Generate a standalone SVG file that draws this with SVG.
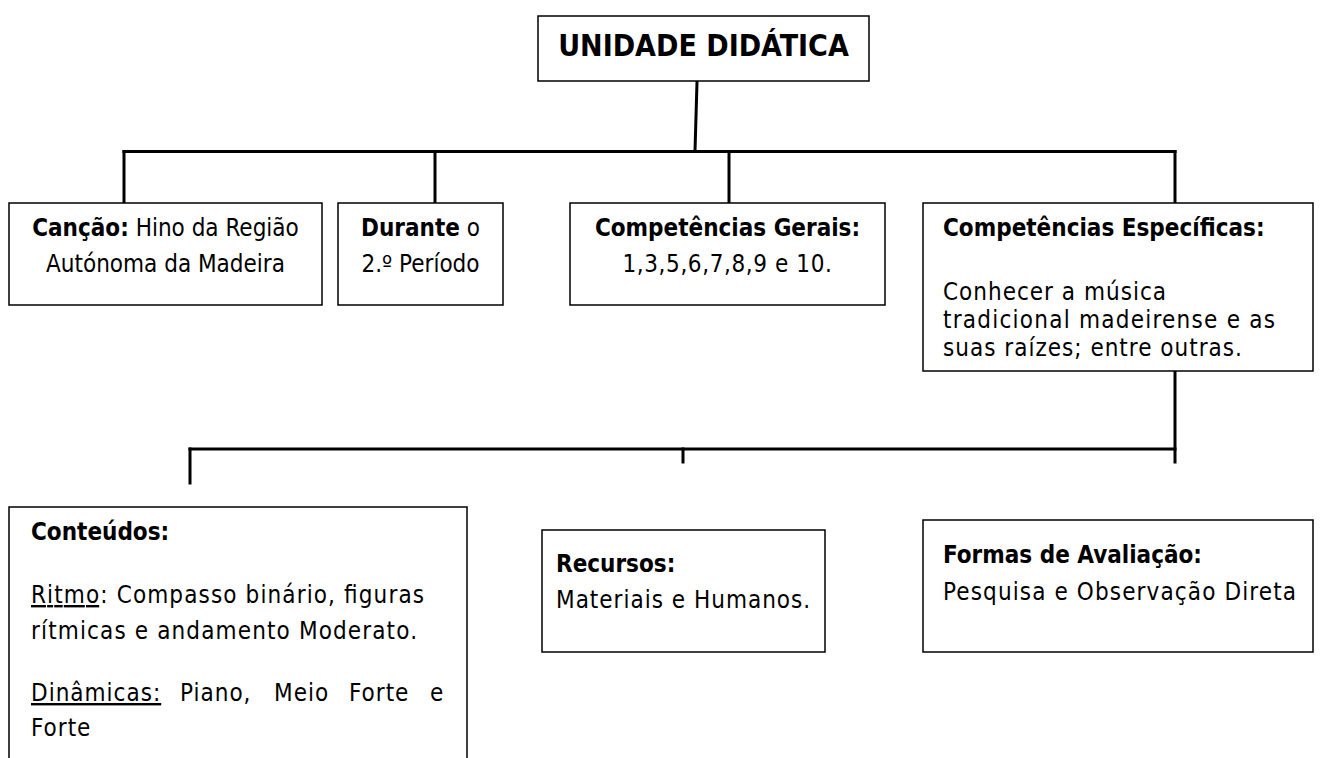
<svg xmlns="http://www.w3.org/2000/svg" width="1323" height="758" viewBox="0 0 1323 758">
<style>
.box{fill:#fff;stroke:#000;stroke-width:1.5}
.ln{stroke:#000;stroke-width:3;fill:none;stroke-linecap:square}
.t{font-family:"DejaVu Sans Condensed","DejaVu Sans",sans-serif;font-stretch:condensed;font-size:24px;fill:#000}
.w{letter-spacing:1px}
.c{text-anchor:middle}
.b{font-weight:bold;letter-spacing:0}
.ttl{font-family:"DejaVu Sans Condensed","DejaVu Sans",sans-serif;font-stretch:condensed;font-size:30px;font-weight:bold;fill:#000;text-anchor:middle}
.u{text-decoration:underline}
</style>
<rect width="1323" height="758" fill="#fff"/>
<g id="connectors">
<line class="ln" x1="697" y1="82" x2="695" y2="151"/>
<line class="ln" x1="124" y1="151.5" x2="1175" y2="151.5"/>
<line class="ln" x1="124" y1="151.5" x2="124" y2="202"/>
<line class="ln" x1="435" y1="151.5" x2="435" y2="202"/>
<line class="ln" x1="729" y1="151.5" x2="729" y2="202"/>
<line class="ln" x1="1175" y1="151.5" x2="1175" y2="202"/>
<line class="ln" x1="1175" y1="372" x2="1175" y2="462"/>
<line class="ln" x1="190" y1="449" x2="1175" y2="449"/>
<line class="ln" x1="190" y1="449" x2="190" y2="483"/>
<line class="ln" x1="683" y1="449" x2="683" y2="462"/>
</g>
<g id="unidade">
<rect class="box" x="538" y="16" width="331" height="65"/>
<text class="ttl" x="703.5" y="56">UNIDADE DIDÁTICA</text>
</g>
<g id="cancao">
<rect class="box" x="9" y="203" width="313" height="102"/>
<text class="t c" x="165.5" y="236"><tspan class="b">Canção:</tspan> Hino da Região</text>
<text class="t c" x="165.5" y="272">Autónoma da Madeira</text>
</g>
<g id="durante">
<rect class="box" x="338" y="203" width="165" height="102"/>
<text class="t c" x="420.5" y="236"><tspan class="b">Durante</tspan> o</text>
<text class="t c" x="420.5" y="272">2.º Período</text>
</g>
<g id="gerais">
<rect class="box" x="570" y="203" width="315" height="102"/>
<text class="t b c" x="727.5" y="236">Competências Gerais:</text>
<text class="t c" x="727.5" y="272" style="letter-spacing:0.6px">1,3,5,6,7,8,9 e 10.</text>
</g>
<g id="especificas">
<rect class="box" x="923" y="203" width="390" height="168"/>
<text class="t b" x="943" y="236">Competências Específicas:</text>
<text class="t w" x="943" y="300">Conhecer a música</text>
<text class="t" x="943" y="328" textLength="332">tradicional madeirense e as</text>
<text class="t w" x="943" y="356">suas raízes; entre outras.</text>
</g>
<g id="conteudos">
<path class="box" d="M9,760 V507 H467 V760"/>
<text class="t b" x="31" y="540">Conteúdos:</text>
<text class="t" x="31" y="603" textLength="393"><tspan class="u">Ritmo</tspan>: Compasso binário, figuras</text>
<text class="t" x="31" y="639" textLength="386">rítmicas e andamento Moderato.</text>
<text class="t w" y="701"><tspan class="u" x="31">Dinâmicas:</tspan><tspan x="180">Piano,</tspan><tspan x="274">Meio</tspan><tspan x="349">Forte</tspan><tspan x="430">e</tspan></text>
<text class="t w" x="31" y="736">Forte</text>
</g>
<g id="recursos">
<rect class="box" x="542" y="530" width="283" height="122"/>
<text class="t b" x="556" y="572">Recursos:</text>
<text class="t w" x="556" y="608">Materiais e Humanos.</text>
</g>
<g id="formas">
<rect class="box" x="923" y="520" width="390" height="132"/>
<text class="t b" x="943" y="563">Formas de Avaliação:</text>
<text class="t" x="943" y="600" textLength="353">Pesquisa e Observação Direta</text>
</g>
</svg>
